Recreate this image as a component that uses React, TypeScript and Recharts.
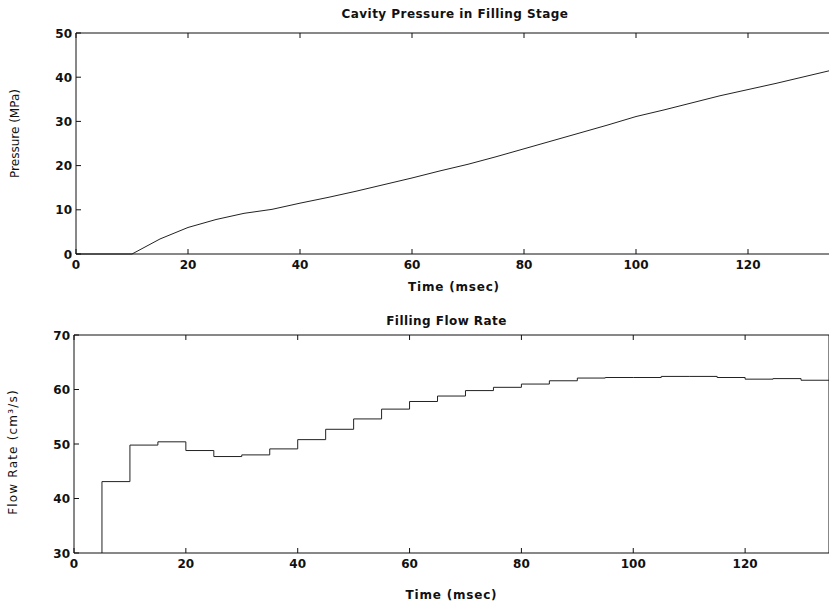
import { LineChart, Line, XAxis, YAxis, Label } from "recharts";

// time ticks shared by both plots (msec)
const TIME_TICKS = [0, 20, 40, 60, 80, 100, 120];
const PRESSURE_TICKS = [0, 10, 20, 30, 40, 50];
const FLOW_TICKS = [30, 40, 50, 60, 70];

// cavity pressure (MPa)
const pressureTime = [0, 5, 10, 15, 20, 25, 30, 35, 40, 45, 50, 55, 60, 65, 70, 75, 80, 85, 90, 95, 100, 105, 110, 115, 120, 125, 130, 135];
const pressureValues = [0, 0, 0, 3.4, 6.0, 7.8, 9.2, 10.1, 11.5, 12.8, 14.2, 15.7, 17.2, 18.8, 20.3, 22.0, 23.8, 25.6, 27.4, 29.2, 31.1, 32.6, 34.2, 35.8, 37.2, 38.6, 40.1, 41.6];

// filling flow rate (cm3/s), one value per 5 msec step
const flowTime = [0, 5, 10, 15, 20, 25, 30, 35, 40, 45, 50, 55, 60, 65, 70, 75, 80, 85, 90, 95, 100, 105, 110, 115, 120, 125, 130, 135];
const flowValues = [0, 43.1, 49.8, 50.4, 48.8, 47.7, 48.0, 49.1, 50.8, 52.7, 54.6, 56.4, 57.8, 58.8, 59.8, 60.4, 61.0, 61.6, 62.1, 62.2, 62.2, 62.4, 62.4, 62.2, 61.9, 62.0, 61.7, 61.7];

const pressureData = pressureTime.map((t, i) => ({ t, p: pressureValues[i] }));
const flowData = flowTime.map((t, i) => ({ t, q: flowValues[i] }));

const FONT = "'DejaVu Sans', 'Liberation Sans', Arial, sans-serif";
const INK = "#111";
const TICK_LEN = 5;
const X_MARGIN = 5;
const Y_MARGIN = 4;

function BottomTick(props: any) {
  const { x, y, payload } = props;
  const axisY = y - X_MARGIN;
  return (
    <g>
      <line x1={x} y1={axisY} x2={x} y2={axisY - TICK_LEN} stroke={INK} />
      <text x={x} y={y} dy={10} textAnchor="middle" fontFamily={FONT} fontWeight="bold" fontSize={12} fill={INK}>
        {payload.value}
      </text>
    </g>
  );
}

function TopTick(props: any) {
  const { x, y } = props;
  return <line x1={x} y1={y} x2={x} y2={y + TICK_LEN} stroke={INK} />;
}

function LeftTick(props: any) {
  const { x, y, payload } = props;
  const axisX = x + Y_MARGIN;
  return (
    <g>
      <line x1={axisX} y1={y} x2={axisX + TICK_LEN} y2={y} stroke={INK} />
      <text x={x} y={y} dy={4.5} textAnchor="end" fontFamily={FONT} fontWeight="bold" fontSize={12} fill={INK}>
        {payload.value}
      </text>
    </g>
  );
}

function RightTick(props: any) {
  const { x, y } = props;
  return <line x1={x} y1={y} x2={x - TICK_LEN} y2={y} stroke={INK} />;
}

function yTitle(text: string, cx: number, shift: number, spacing: number) {
  return (props: any) => {
    const vb = props.viewBox;
    const cy = vb.y + vb.height / 2 + shift;
    return (
      <text x={cx} y={cy} transform={`rotate(-90, ${cx}, ${cy})`} textAnchor="middle" fontFamily={FONT} fontSize={12} letterSpacing={spacing} fill={INK}>
        {text}
      </text>
    );
  };
}

function topTitle(text: string, gap: number, shift: number) {
  return (props: any) => {
    const vb = props.viewBox;
    return (
      <text x={vb.x + vb.width / 2 + shift} y={vb.y + vb.height - gap} textAnchor="middle" fontFamily={FONT} fontWeight="bold" fontSize={12} letterSpacing={0.45} fill={INK}>
        {text}
      </text>
    );
  };
}

function PressureChart() {
  return (
    <LineChart width={842} height={300} data={pressureData} margin={{ top: 32, right: 9, bottom: 9, left: 10 }}>
      <XAxis dataKey="t" type="number" domain={[0, 135]} ticks={TIME_TICKS} height={37}
        axisLine={{ stroke: INK }} tickLine={false} tickSize={0} tickMargin={X_MARGIN} tick={<BottomTick />} interval={0}>
        <Label value="Time (msec)" position="insideBottom" offset={0} fontFamily={FONT} fontWeight="bold" fontSize={12} letterSpacing={0.8} fill={INK} />
      </XAxis>
      <XAxis xAxisId="top" dataKey="t" orientation="top" type="number" domain={[0, 135]} ticks={TIME_TICKS} height={1}
        axisLine={{ stroke: INK }} tickLine={false} tickSize={0} tickMargin={0} tick={<TopTick />} interval={0}>
        <Label content={topTitle("Cavity Pressure in Filling Stage", 15, 1)} />
      </XAxis>
      <YAxis type="number" domain={[0, 50]} ticks={PRESSURE_TICKS} width={66}
        axisLine={{ stroke: INK }} tickLine={false} tickSize={0} tickMargin={Y_MARGIN} tick={<LeftTick />} interval={0}>
        <Label content={yTitle("Pressure  (MPa)", 19, -10, 0)} />
      </YAxis>
      <YAxis yAxisId="right" orientation="right" type="number" domain={[0, 50]} ticks={PRESSURE_TICKS} width={1}
        axisLine={{ stroke: INK }} tickLine={false} tickSize={0} tickMargin={0} tick={<RightTick />} interval={0} />
      <Line dataKey="p" type="linear" stroke="#222" strokeWidth={1} dot={false} isAnimationActive={false} />
    </LineChart>
  );
}

function FlowChart() {
  return (
    <LineChart width={842} height={307} data={flowData} margin={{ top: 34, right: 12, bottom: 8, left: 8 }}>
      <XAxis dataKey="t" type="number" domain={[0, 135]} ticks={TIME_TICKS} height={46}
        axisLine={{ stroke: INK }} tickLine={false} tickSize={0} tickMargin={X_MARGIN} tick={<BottomTick />} interval={0}>
        <Label value="Time (msec)" position="insideBottom" offset={0} fontFamily={FONT} fontWeight="bold" fontSize={12} letterSpacing={0.8} fill={INK} />
      </XAxis>
      <XAxis xAxisId="top" dataKey="t" orientation="top" type="number" domain={[0, 135]} ticks={TIME_TICKS} height={1}
        axisLine={{ stroke: INK }} tickLine={false} tickSize={0} tickMargin={0} tick={<TopTick />} interval={0}>
        <Label content={topTitle("Filling Flow Rate", 10, -5)} />
      </XAxis>
      <YAxis type="number" domain={[30, 70]} ticks={FLOW_TICKS} width={66} allowDataOverflow
        axisLine={{ stroke: INK }} tickLine={false} tickSize={0} tickMargin={Y_MARGIN} tick={<LeftTick />} interval={0}>
        <Label content={yTitle("Flow Rate (cm³/s)", 17, 8, 1.2)} />
      </YAxis>
      <YAxis yAxisId="right" orientation="right" type="number" domain={[30, 70]} ticks={FLOW_TICKS} width={1}
        axisLine={{ stroke: INK }} tickLine={false} tickSize={0} tickMargin={0} tick={<RightTick />} interval={0} />
      <Line dataKey="q" type="stepAfter" stroke="#222" strokeWidth={1} dot={false} isAnimationActive={false} />
    </LineChart>
  );
}

export default function App() {
  return (
    <div style={{ position: "absolute", left: 0, top: 0, width: 829, height: 607, overflow: "hidden", background: "#fff" }}>
      <div style={{ position: "absolute", left: 0, top: 0 }}>
        <PressureChart />
      </div>
      <div style={{ position: "absolute", left: 0, top: 300 }}>
        <FlowChart />
      </div>
    </div>
  );
}
